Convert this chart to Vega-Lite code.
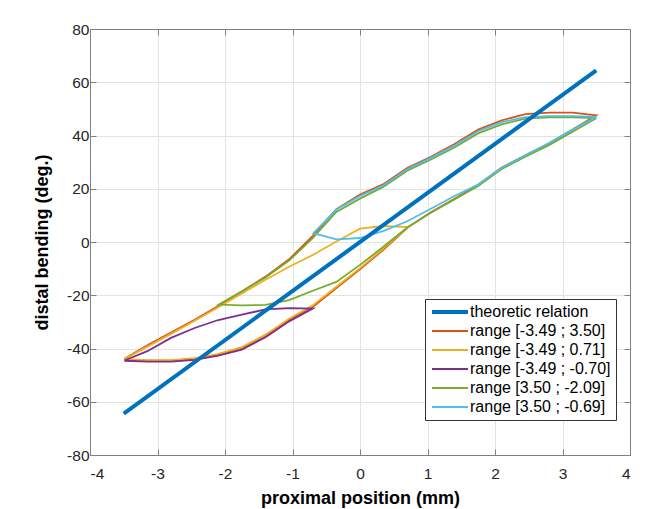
{
  "$schema": "https://vega.github.io/schema/vega-lite/v6.json",
  "autosize": "none",
  "padding": {"left": 90, "top": 29, "right": 25, "bottom": 54},
  "width": 540,
  "height": 426,
  "background": "white",
  "config": {
    "view": {"stroke": "#808080", "strokeWidth": 1},
    "axis": {
      "labelFont": "Liberation Sans",
      "labelFontSize": 15.5,
      "labelColor": "#262626",
      "titleFont": "Liberation Sans",
      "titleFontSize": 18,
      "titleFontWeight": "bold",
      "titleColor": "#000000",
      "domainColor": "#808080",
      "tickColor": "#808080",
      "gridColor": "#e3e3e3",
      "tickSize": -6,
      "labelPadding": 7
    },
    "legend": {
      "labelFont": "Liberation Sans",
      "labelFontSize": 16,
      "labelColor": "#000000"
    }
  },
  "data": {
    "values": [
      {"s": "theoretic relation", "i": 0, "x": -3.5, "y": -64.5},
      {"s": "theoretic relation", "i": 1, "x": 3.5, "y": 64.5},

      {"s": "range [-3.49 ; 3.50]", "i": 0, "x": -3.49, "y": -44.3},
      {"s": "range [-3.49 ; 3.50]", "i": 1, "x": -3.15, "y": -44.6},
      {"s": "range [-3.49 ; 3.50]", "i": 2, "x": -2.8, "y": -44.6},
      {"s": "range [-3.49 ; 3.50]", "i": 3, "x": -2.45, "y": -43.8},
      {"s": "range [-3.49 ; 3.50]", "i": 4, "x": -2.1, "y": -42.3},
      {"s": "range [-3.49 ; 3.50]", "i": 5, "x": -1.75, "y": -39.8},
      {"s": "range [-3.49 ; 3.50]", "i": 6, "x": -1.4, "y": -35.2},
      {"s": "range [-3.49 ; 3.50]", "i": 7, "x": -1.05, "y": -29.3},
      {"s": "range [-3.49 ; 3.50]", "i": 8, "x": -0.7, "y": -24.4},
      {"s": "range [-3.49 ; 3.50]", "i": 9, "x": -0.35, "y": -17.3},
      {"s": "range [-3.49 ; 3.50]", "i": 10, "x": 0, "y": -10.3},
      {"s": "range [-3.49 ; 3.50]", "i": 11, "x": 0.35, "y": -2.8},
      {"s": "range [-3.49 ; 3.50]", "i": 12, "x": 0.71, "y": 5.5},
      {"s": "range [-3.49 ; 3.50]", "i": 13, "x": 1.05, "y": 11.2},
      {"s": "range [-3.49 ; 3.50]", "i": 14, "x": 1.4, "y": 16.2},
      {"s": "range [-3.49 ; 3.50]", "i": 15, "x": 1.75, "y": 21.5},
      {"s": "range [-3.49 ; 3.50]", "i": 16, "x": 2.1, "y": 28.0},
      {"s": "range [-3.49 ; 3.50]", "i": 17, "x": 2.45, "y": 32.6},
      {"s": "range [-3.49 ; 3.50]", "i": 18, "x": 2.8, "y": 37.0},
      {"s": "range [-3.49 ; 3.50]", "i": 19, "x": 3.15, "y": 42.2},
      {"s": "range [-3.49 ; 3.50]", "i": 20, "x": 3.5, "y": 47.6},
      {"s": "range [-3.49 ; 3.50]", "i": 21, "x": 3.15, "y": 48.6},
      {"s": "range [-3.49 ; 3.50]", "i": 22, "x": 2.8, "y": 48.6},
      {"s": "range [-3.49 ; 3.50]", "i": 23, "x": 2.45, "y": 48.0},
      {"s": "range [-3.49 ; 3.50]", "i": 24, "x": 2.1, "y": 45.7},
      {"s": "range [-3.49 ; 3.50]", "i": 25, "x": 1.75, "y": 42.2},
      {"s": "range [-3.49 ; 3.50]", "i": 26, "x": 1.4, "y": 36.8},
      {"s": "range [-3.49 ; 3.50]", "i": 27, "x": 1.05, "y": 32.0},
      {"s": "range [-3.49 ; 3.50]", "i": 28, "x": 0.7, "y": 27.8},
      {"s": "range [-3.49 ; 3.50]", "i": 29, "x": 0.35, "y": 21.8},
      {"s": "range [-3.49 ; 3.50]", "i": 30, "x": 0, "y": 17.8},
      {"s": "range [-3.49 ; 3.50]", "i": 31, "x": -0.35, "y": 12.3},
      {"s": "range [-3.49 ; 3.50]", "i": 32, "x": -0.7, "y": 2.3},
      {"s": "range [-3.49 ; 3.50]", "i": 33, "x": -1.05, "y": -6.5},
      {"s": "range [-3.49 ; 3.50]", "i": 34, "x": -1.4, "y": -13.0},
      {"s": "range [-3.49 ; 3.50]", "i": 35, "x": -1.75, "y": -18.6},
      {"s": "range [-3.49 ; 3.50]", "i": 36, "x": -2.1, "y": -24.0},
      {"s": "range [-3.49 ; 3.50]", "i": 37, "x": -2.45, "y": -29.2},
      {"s": "range [-3.49 ; 3.50]", "i": 38, "x": -2.8, "y": -34.0},
      {"s": "range [-3.49 ; 3.50]", "i": 39, "x": -3.15, "y": -38.8},
      {"s": "range [-3.49 ; 3.50]", "i": 40, "x": -3.49, "y": -43.9},

      {"s": "range [-3.49 ; 0.71]", "i": 0, "x": -3.49, "y": -44.0},
      {"s": "range [-3.49 ; 0.71]", "i": 1, "x": -3.15, "y": -44.4},
      {"s": "range [-3.49 ; 0.71]", "i": 2, "x": -2.8, "y": -44.4},
      {"s": "range [-3.49 ; 0.71]", "i": 3, "x": -2.45, "y": -43.6},
      {"s": "range [-3.49 ; 0.71]", "i": 4, "x": -2.1, "y": -42.0},
      {"s": "range [-3.49 ; 0.71]", "i": 5, "x": -1.75, "y": -39.5},
      {"s": "range [-3.49 ; 0.71]", "i": 6, "x": -1.4, "y": -34.8},
      {"s": "range [-3.49 ; 0.71]", "i": 7, "x": -1.05, "y": -28.8},
      {"s": "range [-3.49 ; 0.71]", "i": 8, "x": -0.7, "y": -23.8},
      {"s": "range [-3.49 ; 0.71]", "i": 9, "x": -0.35, "y": -16.8},
      {"s": "range [-3.49 ; 0.71]", "i": 10, "x": 0, "y": -9.8},
      {"s": "range [-3.49 ; 0.71]", "i": 11, "x": 0.35, "y": -2.4},
      {"s": "range [-3.49 ; 0.71]", "i": 12, "x": 0.71, "y": 5.6},
      {"s": "range [-3.49 ; 0.71]", "i": 13, "x": 0.35, "y": 6.0},
      {"s": "range [-3.49 ; 0.71]", "i": 14, "x": 0, "y": 5.0},
      {"s": "range [-3.49 ; 0.71]", "i": 15, "x": -0.35, "y": 0.2},
      {"s": "range [-3.49 ; 0.71]", "i": 16, "x": -0.7, "y": -4.9},
      {"s": "range [-3.49 ; 0.71]", "i": 17, "x": -1.05, "y": -9.3},
      {"s": "range [-3.49 ; 0.71]", "i": 18, "x": -1.4, "y": -14.2},
      {"s": "range [-3.49 ; 0.71]", "i": 19, "x": -1.75, "y": -19.3},
      {"s": "range [-3.49 ; 0.71]", "i": 20, "x": -2.1, "y": -24.5},
      {"s": "range [-3.49 ; 0.71]", "i": 21, "x": -2.45, "y": -29.6},
      {"s": "range [-3.49 ; 0.71]", "i": 22, "x": -2.8, "y": -34.5},
      {"s": "range [-3.49 ; 0.71]", "i": 23, "x": -3.15, "y": -39.3},
      {"s": "range [-3.49 ; 0.71]", "i": 24, "x": -3.49, "y": -44.0},

      {"s": "range [-3.49 ; -0.70]", "i": 0, "x": -3.49, "y": -44.6},
      {"s": "range [-3.49 ; -0.70]", "i": 1, "x": -3.15, "y": -44.9},
      {"s": "range [-3.49 ; -0.70]", "i": 2, "x": -2.8, "y": -44.9},
      {"s": "range [-3.49 ; -0.70]", "i": 3, "x": -2.45, "y": -44.3},
      {"s": "range [-3.49 ; -0.70]", "i": 4, "x": -2.1, "y": -42.7},
      {"s": "range [-3.49 ; -0.70]", "i": 5, "x": -1.75, "y": -40.4},
      {"s": "range [-3.49 ; -0.70]", "i": 6, "x": -1.4, "y": -35.8},
      {"s": "range [-3.49 ; -0.70]", "i": 7, "x": -1.05, "y": -29.8},
      {"s": "range [-3.49 ; -0.70]", "i": 8, "x": -0.7, "y": -25.0},
      {"s": "range [-3.49 ; -0.70]", "i": 9, "x": -1.05, "y": -24.8},
      {"s": "range [-3.49 ; -0.70]", "i": 10, "x": -1.4, "y": -25.3},
      {"s": "range [-3.49 ; -0.70]", "i": 11, "x": -1.75, "y": -27.3},
      {"s": "range [-3.49 ; -0.70]", "i": 12, "x": -2.1, "y": -29.3},
      {"s": "range [-3.49 ; -0.70]", "i": 13, "x": -2.45, "y": -32.3},
      {"s": "range [-3.49 ; -0.70]", "i": 14, "x": -2.8, "y": -36.0},
      {"s": "range [-3.49 ; -0.70]", "i": 15, "x": -3.15, "y": -41.0},
      {"s": "range [-3.49 ; -0.70]", "i": 16, "x": -3.49, "y": -44.5},

      {"s": "range [3.50 ; -2.09]", "i": 0, "x": 3.5, "y": 46.5},
      {"s": "range [3.50 ; -2.09]", "i": 1, "x": 3.15, "y": 46.8},
      {"s": "range [3.50 ; -2.09]", "i": 2, "x": 2.8, "y": 46.8},
      {"s": "range [3.50 ; -2.09]", "i": 3, "x": 2.45, "y": 46.3},
      {"s": "range [3.50 ; -2.09]", "i": 4, "x": 2.1, "y": 44.2},
      {"s": "range [3.50 ; -2.09]", "i": 5, "x": 1.75, "y": 40.8},
      {"s": "range [3.50 ; -2.09]", "i": 6, "x": 1.4, "y": 35.5},
      {"s": "range [3.50 ; -2.09]", "i": 7, "x": 1.05, "y": 31.0},
      {"s": "range [3.50 ; -2.09]", "i": 8, "x": 0.7, "y": 26.8},
      {"s": "range [3.50 ; -2.09]", "i": 9, "x": 0.35, "y": 20.8},
      {"s": "range [3.50 ; -2.09]", "i": 10, "x": 0, "y": 16.3},
      {"s": "range [3.50 ; -2.09]", "i": 11, "x": -0.35, "y": 11.3},
      {"s": "range [3.50 ; -2.09]", "i": 12, "x": -0.7, "y": 1.5},
      {"s": "range [3.50 ; -2.09]", "i": 13, "x": -1.05, "y": -7.0},
      {"s": "range [3.50 ; -2.09]", "i": 14, "x": -1.4, "y": -13.3},
      {"s": "range [3.50 ; -2.09]", "i": 15, "x": -1.75, "y": -18.5},
      {"s": "range [3.50 ; -2.09]", "i": 16, "x": -2.09, "y": -23.5},
      {"s": "range [3.50 ; -2.09]", "i": 17, "x": -1.75, "y": -23.8},
      {"s": "range [3.50 ; -2.09]", "i": 18, "x": -1.4, "y": -23.6},
      {"s": "range [3.50 ; -2.09]", "i": 19, "x": -1.05, "y": -21.8},
      {"s": "range [3.50 ; -2.09]", "i": 20, "x": -0.7, "y": -18.3},
      {"s": "range [3.50 ; -2.09]", "i": 21, "x": -0.35, "y": -15.0},
      {"s": "range [3.50 ; -2.09]", "i": 22, "x": 0, "y": -8.6},
      {"s": "range [3.50 ; -2.09]", "i": 23, "x": 0.35, "y": -1.7},
      {"s": "range [3.50 ; -2.09]", "i": 24, "x": 0.71, "y": 5.6},
      {"s": "range [3.50 ; -2.09]", "i": 25, "x": 1.05, "y": 11.0},
      {"s": "range [3.50 ; -2.09]", "i": 26, "x": 1.4, "y": 16.0},
      {"s": "range [3.50 ; -2.09]", "i": 27, "x": 1.75, "y": 21.0},
      {"s": "range [3.50 ; -2.09]", "i": 28, "x": 2.1, "y": 27.4},
      {"s": "range [3.50 ; -2.09]", "i": 29, "x": 2.45, "y": 32.0},
      {"s": "range [3.50 ; -2.09]", "i": 30, "x": 2.8, "y": 36.4},
      {"s": "range [3.50 ; -2.09]", "i": 31, "x": 3.15, "y": 41.4},
      {"s": "range [3.50 ; -2.09]", "i": 32, "x": 3.5, "y": 46.5},

      {"s": "range [3.50 ; -0.69]", "i": 0, "x": 3.5, "y": 47.0},
      {"s": "range [3.50 ; -0.69]", "i": 1, "x": 3.15, "y": 47.3},
      {"s": "range [3.50 ; -0.69]", "i": 2, "x": 2.8, "y": 47.3},
      {"s": "range [3.50 ; -0.69]", "i": 3, "x": 2.45, "y": 46.9},
      {"s": "range [3.50 ; -0.69]", "i": 4, "x": 2.1, "y": 45.0},
      {"s": "range [3.50 ; -0.69]", "i": 5, "x": 1.75, "y": 41.6},
      {"s": "range [3.50 ; -0.69]", "i": 6, "x": 1.4, "y": 36.2},
      {"s": "range [3.50 ; -0.69]", "i": 7, "x": 1.05, "y": 31.6},
      {"s": "range [3.50 ; -0.69]", "i": 8, "x": 0.7, "y": 27.3},
      {"s": "range [3.50 ; -0.69]", "i": 9, "x": 0.35, "y": 21.3},
      {"s": "range [3.50 ; -0.69]", "i": 10, "x": 0, "y": 17.3},
      {"s": "range [3.50 ; -0.69]", "i": 11, "x": -0.35, "y": 12.2},
      {"s": "range [3.50 ; -0.69]", "i": 12, "x": -0.69, "y": 3.3},
      {"s": "range [3.50 ; -0.69]", "i": 13, "x": -0.35, "y": 1.0},
      {"s": "range [3.50 ; -0.69]", "i": 14, "x": 0, "y": 1.5},
      {"s": "range [3.50 ; -0.69]", "i": 15, "x": 0.35, "y": 4.2},
      {"s": "range [3.50 ; -0.69]", "i": 16, "x": 0.7, "y": 7.8},
      {"s": "range [3.50 ; -0.69]", "i": 17, "x": 1.05, "y": 12.5},
      {"s": "range [3.50 ; -0.69]", "i": 18, "x": 1.4, "y": 17.3},
      {"s": "range [3.50 ; -0.69]", "i": 19, "x": 1.75, "y": 21.6},
      {"s": "range [3.50 ; -0.69]", "i": 20, "x": 2.1, "y": 27.8},
      {"s": "range [3.50 ; -0.69]", "i": 21, "x": 2.45, "y": 32.6},
      {"s": "range [3.50 ; -0.69]", "i": 22, "x": 2.8, "y": 37.2},
      {"s": "range [3.50 ; -0.69]", "i": 23, "x": 3.15, "y": 42.2},
      {"s": "range [3.50 ; -0.69]", "i": 24, "x": 3.5, "y": 47.0}
    ]
  },
  "layer": [
    {
      "transform": [{"filter": "datum.s !== 'theoretic relation'"}],
      "mark": {"type": "line", "clip": true},
      "encoding": {
        "x": {
          "field": "x", "type": "quantitative",
          "scale": {"domain": [-4, 4], "nice": false, "zero": false},
          "axis": {"values": [-4, -3, -2, -1, 0, 1, 2, 3, 4], "labelExpr": "'' + datum.value", "title": "proximal position (mm)", "labelPadding": 17, "titlePadding": 8}
        },
        "y": {
          "field": "y", "type": "quantitative",
          "scale": {"domain": [-80, 80], "nice": false, "zero": false},
          "axis": {"values": [-80, -60, -40, -20, 0, 20, 40, 60, 80], "labelExpr": "'' + datum.value", "title": "distal bending (deg.)", "titlePadding": 15}
        },
        "color": {
          "field": "s", "type": "nominal",
          "scale": {
            "domain": ["theoretic relation", "range [-3.49 ; 3.50]", "range [-3.49 ; 0.71]", "range [-3.49 ; -0.70]", "range [3.50 ; -2.09]", "range [3.50 ; -0.69]"],
            "range": ["#0072BD", "#D95319", "#EDB120", "#7E2F8E", "#77AC30", "#4DBEEE"]
          },
          "legend": {
            "title": null,
            "orient": "none",
            "legendX": 335,
            "legendY": 270,
            "fillColor": "white",
            "strokeColor": "#333333",
            "padding": 5,
            "symbolType": "M-1,0H5",
            "symbolSize": 144,
            "labelOffset": 24,
            "rowPadding": 3
          }
        },
        "strokeWidth": {
          "field": "s", "type": "nominal",
          "scale": {
            "type": "ordinal",
            "domain": ["theoretic relation", "range [-3.49 ; 3.50]", "range [-3.49 ; 0.71]", "range [-3.49 ; -0.70]", "range [3.50 ; -2.09]", "range [3.50 ; -0.69]"],
            "range": [4, 1.8, 1.8, 1.8, 1.8, 1.8]
          },
          "legend": {
            "title": null,
            "orient": "none",
            "legendX": 335,
            "legendY": 270,
            "fillColor": "white",
            "strokeColor": "#333333",
            "padding": 5,
            "symbolType": "M-1,0H5",
            "symbolSize": 144,
            "labelOffset": 24,
            "rowPadding": 3
          }
        },
        "order": {"field": "i", "type": "quantitative"}
      }
    },
    {
      "transform": [{"filter": "datum.s === 'theoretic relation'"}],
      "mark": {"type": "line"},
      "encoding": {
        "x": {
          "field": "x", "type": "quantitative",
          "axis": {"orient": "top", "values": [-4, -3, -2, -1, 0, 1, 2, 3, 4], "labels": false, "title": null, "grid": false}
        },
        "y": {
          "field": "y", "type": "quantitative",
          "axis": {"orient": "right", "values": [-80, -60, -40, -20, 0, 20, 40, 60, 80], "labels": false, "title": null, "grid": false}
        },
        "color": {"field": "s", "type": "nominal"},
        "strokeWidth": {
          "field": "s", "type": "nominal",
          "scale": {
            "type": "ordinal",
            "domain": ["theoretic relation", "range [-3.49 ; 3.50]", "range [-3.49 ; 0.71]", "range [-3.49 ; -0.70]", "range [3.50 ; -2.09]", "range [3.50 ; -0.69]"],
            "range": [4, 1.8, 1.8, 1.8, 1.8, 1.8]
          }
        },
        "order": {"field": "i", "type": "quantitative"}
      }
    }
  ],
  "resolve": {"axis": {"x": "independent", "y": "independent"}}
}
